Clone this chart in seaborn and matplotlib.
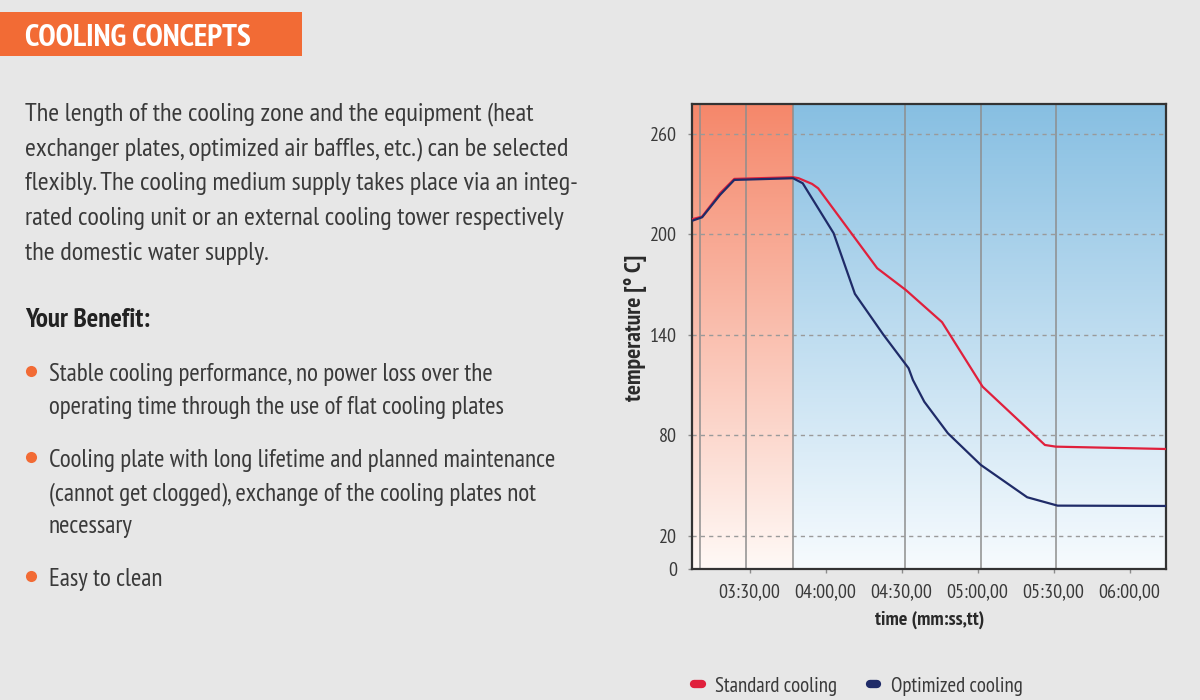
import numpy as np
import pandas as pd
import matplotlib
matplotlib.use("Agg")
import matplotlib.pyplot as plt
import seaborn as sns
from matplotlib.patches import Rectangle
from matplotlib.colors import LinearSegmentedColormap
from matplotlib.lines import Line2D

# data (time in seconds, temperature in deg C)
time_std = [187.5, 191.3, 198.4, 204.0, 227.2, 229.4, 234.7, 237.1, 260.4, 271.7, 286.0, 302.0, 326.6, 330.9, 374.3]
temp_std = [209.0, 210.5, 224.5, 233.0, 234.0, 233.4, 230.0, 227.4, 179.7, 166.7, 147.5, 109.0, 74.2, 73.2, 71.8]

time_opt = [187.5, 191.3, 198.4, 204.0, 227.2, 231.0, 243.2, 251.6, 262.9, 272.8, 274.5, 279.0, 288.3, 301.3, 319.6, 331.6, 374.3]
temp_opt = [208.1, 210.1, 223.5, 232.4, 233.4, 230.4, 200.6, 164.4, 139.9, 120.0, 113.0, 100.0, 81.2, 62.3, 43.0, 38.0, 37.8]

zone_lines = [190.5, 208.5, 227.3, 271.4, 301.3, 331.1]
heat_end = 227.3

x_ticks = [210, 240, 270, 300, 330, 360]
x_labels = ["03:30,00", "04:00,00", "04:30,00", "05:00,00", "05:30,00", "06:00,00"]
y_ticks = [0, 20, 80, 140, 200, 260]

series_names = ["Standard cooling", "Optimized cooling"]
series_colors = {"Standard cooling": "#E0203C", "Optimized cooling": "#1F2B68"}

body_lines = [
    "The length of the cooling zone and the equipment (heat",
    "exchanger plates, optimized air baffles, etc.) can be selected",
    "flexibly. The cooling medium supply takes place via an integ-",
    "rated cooling unit or an external cooling tower respectively",
    "the domestic water supply.",
]
bullets = [
    ["Stable cooling performance, no power loss over the",
     "operating time through the use of flat cooling plates"],
    ["Cooling plate with long lifetime and planned maintenance",
     "(cannot get clogged), exchange of the cooling plates not",
     "necessary"],
    ["Easy to clean"],
]

df = pd.concat([
    pd.DataFrame({"time": time_std, "temp": temp_std, "series": series_names[0]}),
    pd.DataFrame({"time": time_opt, "temp": temp_opt, "series": series_names[1]}),
])

sns.set_theme(style="white")
plt.rcParams["font.family"] = ["PT Sans Narrow", "Roboto Condensed", "DejaVu Sans"]

bg = "#E7E7E7"
txt = "#3A3A3A"
orange = "#F26B35"

fig = plt.figure(figsize=(12, 7), dpi=100, facecolor=bg)
ax = fig.add_axes([692.5 / 1200, 1 - 569.3 / 700, (1166 - 692.5) / 1200, (569.3 - 103.5) / 700])

xmin, xmax = 187.5, 374.4
ymin, ymax = 0, 278

# gradient backgrounds: heating zone and cooling zone
grad = np.linspace(1, 0, 256).reshape(-1, 1)
heat_cmap = LinearSegmentedColormap.from_list("heat", ["#FFF9F6", "#F5876A"])
cool_cmap = LinearSegmentedColormap.from_list("cool", ["#F7FBFE", "#87BFE2"])
ax.imshow(grad, cmap=heat_cmap, extent=[xmin, heat_end, ymin, ymax], aspect="auto", zorder=0, vmin=0, vmax=1)
ax.imshow(grad, cmap=cool_cmap, extent=[heat_end, xmax, ymin, ymax], aspect="auto", zorder=0, vmin=0, vmax=1)

for z in zone_lines:
    ax.axvline(z, color="#8E8E8E", lw=1.1, zorder=1)
for y in y_ticks[1:]:
    ax.axhline(y, color="#9A9A9A", lw=1.0, ls=(0, (3, 3)), zorder=1)

sns.lineplot(data=df, x="time", y="temp", hue="series", palette=series_colors,
             linewidth=1.6, ax=ax, legend=False, zorder=3, sort=False, estimator=None)

ax.set_xlim(xmin, xmax)
ax.set_ylim(ymin, ymax)
ax.set_xticks(x_ticks)
ax.set_xticklabels(x_labels)
ax.set_yticks(y_ticks)
ax.tick_params(axis="both", length=3, width=1, color="#8C8C8C",
               labelsize=14.5, labelcolor="#3A3A3A", direction="out")
ax.tick_params(axis="x", bottom=True, pad=7)
ax.tick_params(axis="y", left=True, pad=8)
for s in ax.spines.values():
    s.set_color("#333333")
    s.set_linewidth(1.6)
ax.set_xlabel("time (mm:ss,tt)", fontsize=14.5, fontweight="bold", color="#2A2A2A", va="center")
ax.xaxis.set_label_coords(0.5, -0.109)
ax.set_ylabel("temperature [° C]", fontsize=17, fontweight="bold", color="#2A2A2A", va="center")
ax.yaxis.set_label_coords(-0.121, 0.518)

# legend below the chart
handles = [Line2D([0], [0], color=series_colors[n], lw=6, solid_capstyle="round") for n in series_names]
fig.legend(handles, series_names, loc="center left", bbox_to_anchor=(694 / 1200, 1 - 686 / 700),
           ncol=2, frameon=False, fontsize=15, handlelength=0.37, handletextpad=0.65,
           columnspacing=1.55, labelcolor=txt, borderpad=0, borderaxespad=0)

# header
fig.patches.append(Rectangle((0, 1 - 56 / 700), 302 / 1200, 44 / 700, transform=fig.transFigure,
                             facecolor=orange, edgecolor="none"))
fig.text(25 / 1200, 1 - 46 / 700, "COOLING CONCEPTS", fontsize=22.5, fontweight="bold",
         color="white", va="baseline", ha="left")

# body paragraph
for i, line in enumerate(body_lines):
    fig.text(25 / 1200, 1 - (120 + i * 35) / 700, line, fontsize=19, color=txt, va="baseline")

fig.text(25 / 1200, 1 - 327 / 700, "Your Benefit:", fontsize=19.5, fontweight="bold", color="#222222",
         va="baseline")

bullet_y = [381, 467, 586]
for by, blines in zip(bullet_y, bullets):
    fig.add_artist(Line2D([30.6 / 1200], [1 - (by - 10) / 700], transform=fig.transFigure,
                          marker="o", markersize=8, color=orange, markeredgewidth=0, linestyle="none"))
    for j, line in enumerate(blines):
        fig.text(49 / 1200, 1 - (by + j * 33) / 700, line, fontsize=18.1, color=txt, va="baseline")

fig.savefig("out.png", dpi=100, facecolor=bg)
